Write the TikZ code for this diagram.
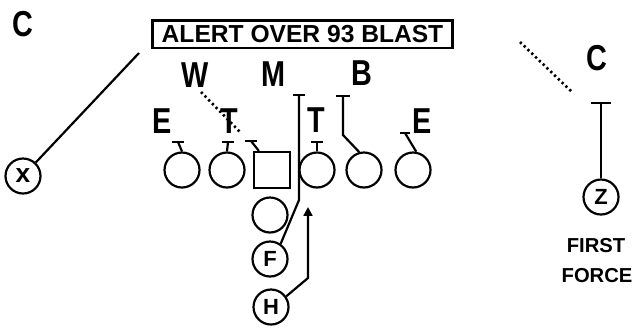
\documentclass[tikz,border=0pt]{standalone}
\usepackage{fontspec}
\setmainfont{Liberation Sans}
\usepackage{graphicx}
\usetikzlibrary{arrows.meta}
\newcommand\sqz[1]{\scalebox{0.8}[1]{#1}}
\newcommand\tbar[2]{\draw[line width=1.4pt] (#1) +(-#2,0) -- +(#2,0);}
\begin{document}
\begin{tikzpicture}[x=0.02cm,y=-0.02cm,line width=1.25pt,
  player/.style={draw,circle,minimum size=0.7cm,inner sep=0pt,font=\bfseries\fontsize{12.5}{12.5}\selectfont},
  ctrbox/.style={draw,rectangle,minimum size=0.72cm,inner sep=0pt},
  lbl/.style={inner sep=0pt,font=\bfseries\fontsize{20.5}{20.5}\selectfont},
  dotline/.style={line width=1.5pt,dash pattern=on 1.3pt off 1.7pt},
  titlebox/.style={draw,line width=1.7pt,minimum width=6.02cm,minimum height=0.56cm,inner sep=0pt,font=\bfseries\fontsize{14}{14}\selectfont},
  note/.style={inner sep=0pt,font=\bfseries\fontsize{11.5}{11.5}\selectfont}
]
\useasboundingbox (0,0) rectangle (634,329);

% title
\node[titlebox] (title) at (302.5,34) {ALERT OVER 93 BLAST};

% labels
\node[lbl] (cL) at (23,24) {\sqz{C}};
\node[lbl] (w) at (195,75) {\sqz{W}};
\node[lbl] (m) at (273,74) {\sqz{M}};
\node[lbl] (b) at (362,73) {\sqz{B}};
\node[lbl] (eL) at (162,121) {\sqz{E}};
\node[lbl] (tL) at (229,121) {\sqz{T}};
\node[lbl] (tR) at (316,120) {\sqz{T}};
\node[lbl] (eR) at (422,121) {\sqz{E}};
\node[lbl] (cR) at (597,58) {\sqz{C}};

% offense
\node[player,font=\bfseries\fontsize{15}{15}\selectfont] (ox) at (23,176) {x};
\node[player] (ol1) at (182,170) {};
\node[player] (ol2) at (227,170) {};
\node[ctrbox] (c) at (272,170) {};
\node[player] (or1) at (317,170) {};
\node[player] (or2) at (364,170) {};
\node[player] (or3) at (413,170) {};
\node[player] (qb) at (270,215) {};
\node[player] (f) at (270,259) {F};
\node[player] (h) at (271,307) {H};
\node[player] (z) at (601,197) {Z};

\node[note] (first) at (596,246) {FIRST};
\node[note] (force) at (597,276) {FORCE};

% coordinates
\coordinate (xend) at (139,53);
\coordinate (k1) at (178,142);
\coordinate (k2) at (228,142);
\coordinate (k3) at (251,141);
\coordinate (k4) at (317,142);
\coordinate (bb) at (343,135);
\coordinate (kB) at (343,96);
\coordinate (k6) at (405,133);
\coordinate (fm) at (299,200);
\coordinate (kM) at (299,95);
\coordinate (hm) at (308,278);
\coordinate (hA) at (308,207);
\coordinate (kZ) at (601,103);
\coordinate (wd1) at (201,92);
\coordinate (wd2) at (240,132);
\coordinate (cd1) at (520,42);
\coordinate (cd2) at (573,93);

% connectors
\draw (ox) -- (xend);
\draw (ol1.north) -- (k1); \tbar{k1}{6}
\draw (ol2.north) -- (k2); \tbar{k2}{6}
\draw ([xshift=0.12cm]c.north west) -- (k3); \tbar{k3}{6}
\draw (or1.north) -- (k4); \tbar{k4}{6}
\draw (or2.105) -- (bb) -- (kB); \tbar{kB}{7}
\draw (or3.80) -- (k6); \tbar{k6}{5}
\draw (f.55) -- (fm) -- (kM); \tbar{kM}{6}
\draw[-{Triangle[width=5pt,length=5pt]}] (h.35) -- (hm) -- (hA);
\draw (z.north) -- (kZ); \tbar{kZ}{10}
\draw[dotline] (wd1) -- (wd2);
\draw[dotline] (cd1) -- (cd2);
\end{tikzpicture}
\end{document}
